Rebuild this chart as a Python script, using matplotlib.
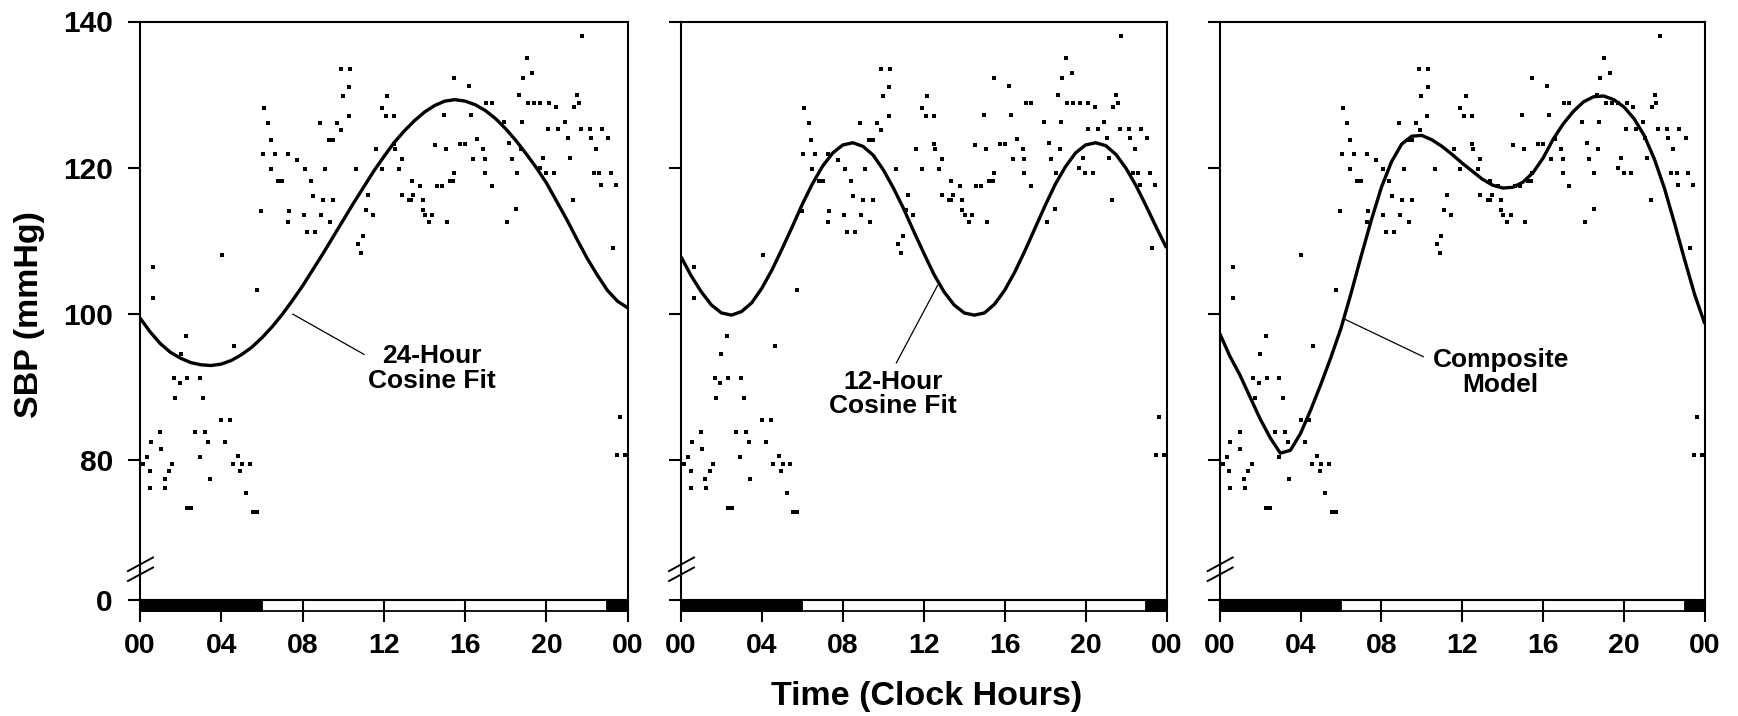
import numpy as np
import matplotlib
matplotlib.use('Agg')
import matplotlib.pyplot as plt
import matplotlib.transforms as mtransforms
from matplotlib.patches import Rectangle

plt.rcParams['font.family'] = ['Liberation Sans', 'DejaVu Sans']
plt.rcParams['font.weight'] = 'bold'

# <><><><><><><><><><><><><><><><><><><><><><><><><><><><><><><><><><>
# Data (clock hour, SBP in mmHg)
hours = [0.15, 0.36, 0.48, 0.51, 0.53, 0.98, 1.02, 1.21, 1.25, 1.41, 1.59, 1.67,
         1.74, 1.95, 2.0, 2.28, 2.3, 2.5, 2.33, 2.72, 2.94, 2.95, 3.12, 3.22,
         3.36, 3.43, 4.0, 4.43, 4.2, 4.56, 4.63, 4.82, 4.94, 5.02, 5.23, 5.4,
         5.55, 5.75,
         0.66, 0.66, 4.04, 5.74, 5.97, 6.04, 6.46, 6.64, 6.8, 7.0, 7.28, 7.28,
         7.33, 7.74, 8.07, 8.1, 8.22, 8.4, 8.5, 8.6,
         6.09, 6.32, 6.43, 8.87, 8.91, 9.02, 9.1, 9.3, 9.5, 9.35, 9.5, 9.71,
         9.88, 9.91, 9.97, 10.27, 10.29, 10.33, 10.63, 10.73, 10.88, 10.96,
         11.12, 11.24, 11.45, 11.61, 11.89, 11.91, 12.1, 12.17, 12.5, 12.5,
         12.55, 12.76, 12.88, 12.88, 13.25, 13.35, 13.37, 13.45, 13.78, 13.91,
         13.91, 14.03, 14.22, 14.39,
         14.52, 14.6, 14.85, 14.98, 15.06, 15.12, 15.25, 15.42, 15.45, 15.45,
         15.75, 16.0, 16.21, 16.29, 16.4, 16.6, 16.9, 16.98, 16.98, 17.05,
         17.3, 17.3, 17.93, 18.08, 18.18, 18.29, 18.5, 18.54, 18.65, 18.74,
         18.78, 18.83, 19.03, 19.1, 19.31, 19.4, 19.69, 19.7, 19.85, 19.98,
         20.1, 20.13, 20.37, 20.46, 20.59, 20.92, 21.04, 21.16, 21.33, 21.37,
         21.52, 21.6, 21.7, 21.77, 22.15, 22.18, 22.35, 22.44, 22.6, 22.69,
         22.72, 23.05, 23.18, 23.26, 23.41, 23.49, 23.62, 23.87]
sbp = [79.4, 80.4, 78.4, 76.1, 82.4, 83.8, 81.5, 77.4, 76.1, 78.4, 79.4, 91.2,
       88.5, 90.5, 94.5, 96.9, 73.4, 73.4, 91.2, 83.8, 80.4, 91.2, 88.5, 83.8,
       82.4, 77.4, 85.5, 85.5, 82.4, 79.4, 95.6, 80.5, 78.4, 79.4, 75.4, 79.4,
       72.8, 72.8,
       106.4, 102.1, 108.0, 103.2, 114.1, 121.8, 119.8, 121.8, 118.1, 118.1, 121.8, 112.5,
       114.1, 121.1, 113.5, 119.8, 111.2, 118.1, 116.1, 111.2,
       128.1, 126.1, 123.8, 126.1, 113.5, 115.5, 119.8, 123.8, 123.8, 112.5, 115.5, 126.1,
       133.5, 125.2, 129.8, 127.1, 131.1, 133.5, 119.8, 109.6, 108.3, 110.6,
       114.2, 116.2, 113.5, 122.5, 119.8, 128.2, 127.1, 129.8, 127.1, 123.2,
       122.5, 119.8, 121.2, 116.3, 115.5, 115.5, 118.2, 116.3, 117.5, 115.5,
       114.2, 113.5, 112.6, 113.5,
       123.1, 117.5, 117.5, 127.2, 122.6, 112.6, 118.2, 118.2, 119.2, 132.2,
       123.2, 123.2, 131.2, 127.2, 121.2, 123.9, 122.6, 121.2, 119.2, 128.9,
       128.9, 117.5, 126.2, 112.6, 123.3, 121.2, 114.3, 119.2, 129.9, 122.6,
       126.2, 132.2, 135.0, 128.9, 132.9, 128.9, 120.0, 128.9, 121.3, 119.3,
       125.3, 128.9, 119.3, 128.3, 125.3, 126.3, 124.0, 121.3, 115.6, 128.3,
       129.9, 128.9, 125.3, 138.0, 125.3, 124.0, 119.3, 122.6, 119.3, 117.6,
       125.3, 124.0, 119.3, 109.0, 117.6, 80.7, 85.8, 80.7]

# fitted curves, read every half hour
curve_hours = [0, 0.5, 1, 1.5, 2, 2.5, 3, 3.5, 4, 4.5, 5, 5.5, 6, 6.5, 7, 7.5,
               8, 8.5, 9, 9.5, 10, 10.5, 11, 11.5, 12, 12.5, 13, 13.5, 14, 14.5,
               15, 15.5, 16, 16.5, 17, 17.5, 18, 18.5, 19, 19.5, 20, 20.5, 21,
               21.5, 22, 22.5, 23, 23.5, 24]
fit_24h = [99.4, 97.5, 95.9, 94.7, 93.9, 93.3, 93.0, 92.9, 93.1, 93.6, 94.4,
           95.4, 96.7, 98.2, 99.9, 101.8, 103.8, 106.0, 108.2, 110.5, 112.8,
           115.1, 117.3, 119.5, 121.5, 123.4, 125.0, 126.4, 127.6, 128.5, 129.1,
           129.3, 129.1, 128.6, 127.8, 126.7, 125.3, 123.7, 121.9, 120.0, 117.9,
           115.4, 112.9, 110.2, 107.6, 105.3, 103.2, 101.7, 100.8]
fit_12h = [107.8, 105.2, 103.0, 101.2, 100.1, 99.8, 100.3, 101.5, 103.5, 106.0,
           108.9, 111.9, 115.0, 117.8, 120.2, 122.0, 123.1, 123.4, 122.9, 121.7,
           119.7, 117.2, 114.4, 111.3, 108.3, 105.4, 103.0, 101.2, 100.1, 99.8,
           100.1, 101.3, 103.2, 105.7, 108.6, 111.7, 114.8, 117.7, 120.1, 122.0,
           123.1, 123.4, 123.0, 121.8, 119.9, 117.5, 114.7, 111.8, 109.0]
fit_composite = [97.3, 94.2, 91.6, 88.6, 85.6, 83.0, 80.9, 81.3, 83.6, 86.8,
                 90.3, 94.0, 98.0, 102.8, 107.9, 112.8, 117.3, 120.8, 123.2,
                 124.3, 124.4, 123.8, 122.9, 121.8, 120.6, 119.5, 118.4, 117.6,
                 117.2, 117.3, 118.0, 119.3, 121.3, 123.9, 126.0, 127.7, 129.0,
                 129.7, 129.8, 129.3, 128.3, 126.7, 124.4, 121.2, 117.2, 112.4,
                 107.4, 102.6, 98.6]

fit_labels = ['24-Hour\nCosine Fit', '12-Hour\nCosine Fit', 'Composite\nModel']
x_ticks = [0, 4, 8, 12, 16, 20, 24]
x_tick_labels = ['00', '04', '08', '12', '16', '20', '00']
y_ticks = [140, 120, 100, 80]
y_tick_labels = ['140', '120', '100', '80']
night_start = [0, 23]
night_end = [6, 24]
# <><><><><><><><><><><><><><><><><><><><><><><><><><><><><><><><><><>

W, H = 1738, 716
fig = plt.figure(figsize=(W / 100, H / 100), dpi=100)

y_zero = 60.8          # where the broken axis puts its "0"
ax_bottom, ax_height = 600, 578.5
lefts = [140, 681, 1219.7]
widths = [487.7, 485.5, 485.1]
fits = [fit_24h, fit_12h, fit_composite]

# label anchor (curve point) and text centre, per panel
notes = [((7.51, 99.95), (14.37, 92.5), (0, 0.74), 1),
         ((12.69, 103.9), (10.47, 89.0), (0.5, 1.0), 3),
         ((6.22, 99.2), (13.9, 91.9), (0, 0.74), 5)]

bar_h = 11 / ax_height

for i in range(3):
    ax = fig.add_axes([lefts[i] / W, (H - ax_bottom) / H, widths[i] / W, ax_height / H])

    ax.plot(hours, sbp, 's', ms=3.5, mew=0, color='k', zorder=3)
    ax.plot(curve_hours, fits[i], color='k', lw=2.4, solid_joinstyle='round',
            solid_capstyle='butt', zorder=4)

    ax.set_xlim(0, 24)
    ax.set_ylim(y_zero, 140)
    ax.set_xticks(x_ticks)
    ax.set_xticklabels(x_tick_labels)
    ax.set_yticks([y_zero] + y_ticks)
    if i == 0:
        ax.set_yticklabels(['0'] + y_tick_labels)
    else:
        ax.set_yticklabels([])

    for sp in ax.spines.values():
        sp.set_linewidth(1.5)
    ax.tick_params(axis='x', direction='out', length=16, width=1.5, pad=8, labelsize=20.5)
    ax.tick_params(axis='y', direction='out', length=8.6, width=1.5, pad=11, labelsize=21.5)

    # day / night bar under the time axis
    trans = mtransforms.blended_transform_factory(ax.transData, ax.transAxes)
    ax.add_patch(Rectangle((0, -bar_h), 24, bar_h, transform=trans, fc='white',
                           ec='k', lw=1.3, clip_on=False, zorder=1))
    for s, e in zip(night_start, night_end):
        ax.add_patch(Rectangle((s, -bar_h), e - s, bar_h, transform=trans, fc='k',
                               ec='k', lw=1.3, clip_on=False, zorder=1))

    # axis break marks
    ax.plot([-0.0247, 0.0267], [0.050, 0.0735], transform=ax.transAxes, color='k',
            lw=1.4, clip_on=False)
    ax.plot([-0.0247, 0.0267], [0.0328, 0.0562], transform=ax.transAxes, color='k',
            lw=1.4, clip_on=False)

    xy, xytext, rel, shr = notes[i]
    ax.annotate(fit_labels[i], xy=xy, xytext=xytext, ha='center', va='center',
                fontsize=19, fontweight='bold', linespacing=1.05,
                arrowprops=dict(arrowstyle='-', lw=0.9, color='k', relpos=rel,
                                shrinkA=shr, shrinkB=0))

fig.text(30 / W, 1 - 314 / H, 'SBP (mmHg)', rotation=90, ha='center', va='center',
         fontsize=24.5, fontweight='bold')
fig.text(927 / W, 1 - 697 / H, 'Time (Clock Hours)', ha='center', va='center',
         fontsize=24.5, fontweight='bold')

fig.savefig('out.png', dpi=100)
